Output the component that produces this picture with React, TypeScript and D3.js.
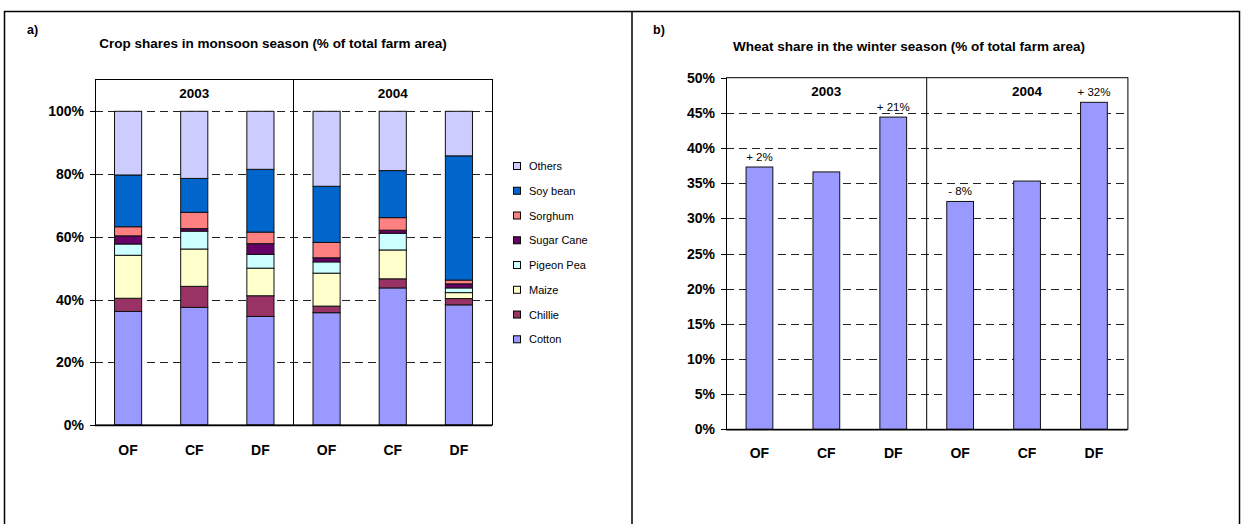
import React from "react";
import * as d3 from "d3";

// ---------- DATA ----------
const farmTypes = ["OF", "CF", "DF", "OF", "CF", "DF"];
const years = ["2003", "2004"];

const crops = ["Cotton", "Chillie", "Maize", "Pigeon Pea", "Sugar Cane", "Sorghum", "Soy bean", "Others"];
const cropColors = ["#9999FF", "#993366", "#FFFFCC", "#CCFFFF", "#660066", "#FF8080", "#0066CC", "#CCCCFF"];

// shares (% of total farm area) per bar: OF03, CF03, DF03, OF04, CF04, DF04
const cotton = [36.2, 37.5, 34.6, 35.8, 43.7, 38.3];
const chillie = [4.2, 6.7, 6.6, 2.1, 2.9, 2.0];
const maize = [13.7, 11.9, 8.8, 10.5, 9.2, 1.9];
const pigeonPea = [3.6, 5.7, 4.4, 3.6, 5.3, 1.5];
const sugarCane = [2.6, 0.8, 3.4, 1.3, 1.0, 1.3];
const sorghum = [2.9, 5.2, 3.7, 4.9, 4.0, 1.2];
const soyBean = [16.5, 10.8, 20.0, 17.9, 15.0, 39.6];
const others = [20.3, 21.4, 18.5, 23.9, 18.9, 14.2];

const leftTicks = [0, 20, 40, 60, 80, 100];

const wheatShare = [37.3, 36.6, 44.4, 32.4, 35.3, 46.5];
const wheatLabels = ["+ 2%", "", "+ 21%", "- 8%", "", "+ 32%"];
const rightTicks = [0, 5, 10, 15, 20, 25, 30, 35, 40, 45, 50];

const FONT = "Arial, 'Liberation Sans', Helvetica, sans-serif";

export default function App() {
  const cropSeries = [cotton, chillie, maize, pigeonPea, sugarCane, sorghum, soyBean, others];
  const rows = farmTypes.map((_, i) => {
    const r: any = { idx: i };
    crops.forEach((c, k) => (r[c] = cropSeries[k][i]));
    return r;
  });
  const stacked = d3.stack().keys(crops)(rows);

  // left chart geometry
  const L = { x0: 95, x1: 492, top: 79.5, y0: 425, y100: 111.3 };
  const xL = d3.scaleBand<number>().domain(d3.range(6)).range([L.x0, L.x1]);
  const yL = d3.scaleLinear().domain([0, 100]).range([L.y0, L.y100]);
  const bwL = xL.bandwidth() * 0.41;

  // right chart geometry
  const R = { x0: 726, x1: 1127.4, y0: 429.3, yTop: 77.7 };
  const xR = d3.scaleBand<number>().domain(d3.range(6)).range([R.x0, R.x1]);
  const yR = d3.scaleLinear().domain([0, 50]).range([R.y0, R.yTop]);
  const bwR = xR.bandwidth() * 0.4;

  const legendY = d3.scaleLinear().domain([0, 7]).range([166, 339.3]);
  const legendOrder = [...crops].reverse();

  return (
    <svg
      width={1243}
      height={524}
      style={{ position: "absolute", left: 0, top: 0, background: "#fff" }}
      fontFamily={FONT}
    >
      <rect x={0} y={0} width={1243} height={524} fill="#fff" />
      {/* outer frame */}
      <rect x={4.5} y={11.5} width={1235} height={520} fill="none" stroke="#000" strokeWidth={1.5} />
      <line x1={632} x2={632} y1={11} y2={524} stroke="#000" strokeWidth={1.5} />

      {/* ---------- LEFT PANEL ---------- */}
      <text x={27} y={34} fontSize={12.5} fontWeight="bold">a)</text>
      <text x={273} y={47.5} fontSize={13.5} fontWeight="bold" textAnchor="middle">
        Crop shares in monsoon season (% of total farm area)
      </text>
      {/* gridlines */}
      {leftTicks.filter((t) => t > 0).map((t) => (
        <line key={t} x1={L.x0} x2={L.x1} y1={Math.round(yL(t)) + 0.5} y2={Math.round(yL(t)) + 0.5}
          stroke="#222" strokeDasharray="8,5" />
      ))}
      {/* bars */}
      {stacked.map((s, k) => (
        <g key={crops[k]}>
          {s.map((d, i) => (
            <rect key={i} x={(xL(i) as number) + (xL.bandwidth() - bwL) / 2} width={bwL}
              y={yL(d[1])} height={yL(d[0]) - yL(d[1])}
              fill={cropColors[k]} stroke="#111" strokeWidth={1} />
          ))}
        </g>
      ))}
      {/* plot frame */}
      <rect x={L.x0 + 0.5} y={L.top} width={L.x1 - L.x0} height={L.y0 - L.top} fill="none" stroke="#000" strokeWidth={1} />
      <line x1={(L.x0 + L.x1) / 2} x2={(L.x0 + L.x1) / 2} y1={L.top} y2={L.y0} stroke="#000" />
      <line x1={L.x0} x2={L.x1} y1={L.y0 + 0.5} y2={L.y0 + 0.5} stroke="#000" strokeWidth={1.5} />
      {years.map((yr, j) => (
        <text key={yr} x={L.x0 + (L.x1 - L.x0) * (j * 2 + 1) / 4} y={97.5} fontSize={13.5} fontWeight="bold" textAnchor="middle">{yr}</text>
      ))}
      {/* y ticks */}
      {leftTicks.map((t) => (
        <g key={t}>
          <line x1={L.x0 - 5} x2={L.x0} y1={Math.round(yL(t)) + 0.5} y2={Math.round(yL(t)) + 0.5} stroke="#000" />
          <text x={84} y={yL(t) + 5} fontSize={14} fontWeight="bold" textAnchor="end">{t}%</text>
        </g>
      ))}
      {/* x labels */}
      {farmTypes.map((f, i) => (
        <text key={i} x={(xL(i) as number) + xL.bandwidth() / 2} y={455} fontSize={14} fontWeight="bold" textAnchor="middle">{f}</text>
      ))}
      {/* legend */}
      {legendOrder.map((c, i) => {
        const k = crops.indexOf(c);
        return (
          <g key={c}>
            <rect x={513.5} y={legendY(i) - 3.5} width={7} height={7} fill={cropColors[k]} stroke="#000" strokeWidth={1} />
            <text x={529} y={legendY(i) + 4} fontSize={11}>{c}</text>
          </g>
        );
      })}

      {/* ---------- RIGHT PANEL ---------- */}
      <text x={653} y={34} fontSize={12.5} fontWeight="bold">b)</text>
      <text x={909} y={51} fontSize={13.5} fontWeight="bold" textAnchor="middle">
        Wheat share in the winter season (% of total farm area)
      </text>
      {rightTicks.filter((t) => t > 0 && t < 50).map((t) => (
        <line key={t} x1={R.x0} x2={R.x1} y1={Math.round(yR(t)) + 0.5} y2={Math.round(yR(t)) + 0.5}
          stroke="#222" strokeDasharray="8,5" />
      ))}
      {wheatShare.map((v, i) => (
        <g key={i}>
          <rect x={(xR(i) as number) + (xR.bandwidth() - bwR) / 2} width={bwR} y={yR(v)} height={yR(0) - yR(v)}
            fill="#9999FF" stroke="#111" strokeWidth={1} />
          {wheatLabels[i] && (
            <text x={(xR(i) as number) + xR.bandwidth() / 2} y={yR(v) - 6} fontSize={11.5} textAnchor="middle">{wheatLabels[i]}</text>
          )}
        </g>
      ))}
      <rect x={R.x0 + 0.5} y={R.yTop} width={R.x1 - R.x0} height={R.y0 - R.yTop} fill="none" stroke="#000" strokeWidth={1} />
      <line x1={(R.x0 + R.x1) / 2} x2={(R.x0 + R.x1) / 2} y1={R.yTop} y2={R.y0} stroke="#000" />
      <line x1={R.x0} x2={R.x1} y1={R.y0 + 0.5} y2={R.y0 + 0.5} stroke="#000" strokeWidth={1.5} />
      {years.map((yr, j) => (
        <text key={yr} x={R.x0 + (R.x1 - R.x0) * (j * 2 + 1) / 4} y={96} fontSize={13.5} fontWeight="bold" textAnchor="middle">{yr}</text>
      ))}
      {rightTicks.map((t) => (
        <g key={t}>
          <line x1={R.x0 - 5} x2={R.x0} y1={Math.round(yR(t)) + 0.5} y2={Math.round(yR(t)) + 0.5} stroke="#000" />
          <text x={715} y={yR(t) + 5} fontSize={14} fontWeight="bold" textAnchor="end">{t}%</text>
        </g>
      ))}
      {farmTypes.map((f, i) => (
        <text key={i} x={(xR(i) as number) + xR.bandwidth() / 2} y={458} fontSize={14} fontWeight="bold" textAnchor="middle">{f}</text>
      ))}
    </svg>
  );
}
